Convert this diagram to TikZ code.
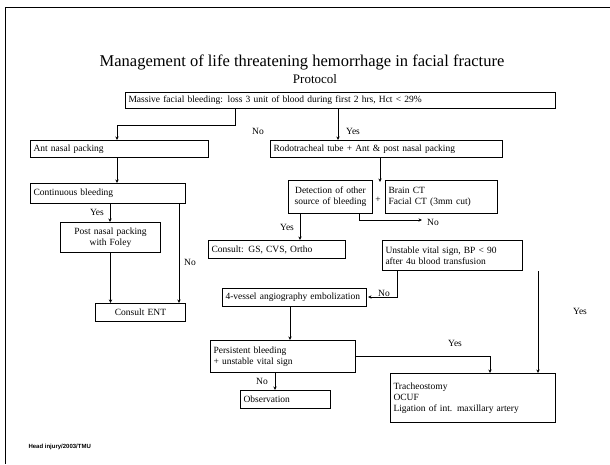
\documentclass[tikz,border=0pt]{standalone}
\usepackage{fontspec}
\setmainfont{Liberation Serif}
\newfontfamily\footfont{Liberation Sans}
\usetikzlibrary{arrows.meta,calc}
\tikzset{
  box/.style={draw, line width=1pt, inner xsep=3pt, inner ysep=1.5pt, anchor=north west,
    font=\fontsize{9.5}{11}\selectfont, align=left},
  cbox/.style={box, align=center},
  conn/.style={line width=0.6pt},
  arr/.style={conn, -{Stealth[length=3.5pt,width=3.2pt]}},
  lab/.style={font=\fontsize{9.5}{11}\selectfont, inner sep=1pt},
}
\begin{document}
\begin{tikzpicture}[x=1pt,y=-1pt]
\useasboundingbox (0,0) rectangle (610,464);
% slide frame
\draw[line width=1pt] (610,7) -- (5,7) -- (5,464);
% title
\node[font=\fontsize{16.5}{18}\selectfont] (title) at (302,62) {Management of life threatening hemorrhage in facial fracture};
\node[font=\fontsize{13}{15}\selectfont] (proto) at (315,79) {Protocol};
% boxes
\node[box, text width=424pt, minimum height=16pt] (A) at (125,92) {Massive facial bleeding: loss 3 unit of blood during first 2 hrs, Hct < 29\%};
\node[box, text width=172pt, minimum height=17pt] (B) at (30,140) {Ant nasal packing};
\node[box, text width=226pt, minimum height=17pt] (C) at (270,140) {Rodotracheal tube + Ant \& post nasal packing};
\node[box, text width=149pt, minimum height=20pt] (D) at (30,183) {Continuous bleeding};
\node[cbox, text width=78pt, minimum height=33pt] (E) at (288,180) {Detection of other\\source of bleeding};
\node[box, text width=106pt, minimum height=33pt] (F) at (385,180) {Brain CT\\Facial CT (3mm cut)};
\node[lab] (plus) at (378,200) {+};
\node[cbox, text width=94pt, minimum height=30pt] (G) at (60,222) {Post nasal packing\\with Foley};
\node[box, text width=131pt, minimum height=18pt] (H) at (208,240) {Consult: GS, CVS, Ortho};
\node[box, text width=134pt, minimum height=30pt] (I) at (382,240) {Unstable vital sign, BP < 90\\after 4u blood transfusion};
\node[cbox, text width=84pt, minimum height=18pt] (J) at (95,303) {Consult ENT};
\node[box, text width=138pt, minimum height=18pt] (K) at (222,288) {4-vessel angiography embolization};
\node[box, text width=139pt, minimum height=32pt] (L) at (210,340) {Persistent bleeding\\+ unstable vital sign};
\node[box, text width=84pt, minimum height=18pt] (M) at (240,390) {Observation};
\node[box, text width=159pt, minimum height=49pt] (N) at (390,373) {Tracheostomy\\OCUF\\Ligation of int. maxillary artery};
% footer
\node[font=\footfont\bfseries\fontsize{6}{7}\selectfont, anchor=west] (foot) at (25,447) {Head injury/2003/TMU};
% connectors
\draw[arr] ([xshift=110pt]A.south west) -- ++(0,16) -| ([xshift=87pt]B.north west);
\node[lab] (noA) at (258,131) {No};
\draw[arr] ([xshift=213pt]A.south west) -- ([xshift=68pt]C.north west);
\node[lab] (yesA) at (353,131) {Yes};
\draw[arr] ([xshift=87pt]B.south west) -- ([xshift=87pt]D.north west);
\draw[arr] ([xshift=110pt]C.south west) -- ([xshift=110pt,yshift=-2pt]C.south west |- E.north);
\draw[arr] ([xshift=80pt]D.south west) -- ([xshift=50pt]G.north west);
\node[lab] (yesD) at (97,212) {Yes};
\draw[arr] ([xshift=-7pt]D.south east) -- ([xshift=-7pt]D.south east |- J.north);
\node[lab] (noD) at (190,262) {No};
\draw[arr] (G.south) -- (G.south |- J.north);
\draw[arr] ([xshift=12pt]E.south west) -- ([xshift=92pt]H.north west);
\node[lab] (yesE) at (287,227) {Yes};
\coordinate (noEend) at (422,220);
\draw[arr] ([xshift=-14pt]E.south east) |- (noEend);
\node[lab] (noE) at (433,222) {No};
\coordinate (noIend) at (368,297);
\draw[arr] ([xshift=15pt]I.south west) |- (noIend);
\node[lab] (noI) at (384,293) {No};
\draw[arr] ([xshift=15pt]I.south east) -- ([xshift=15pt]I.south east |- N.north);
\node[lab] (yesI) at (580,311) {Yes};
\draw[arr] ([xshift=68pt]K.south west) -- ([xshift=80pt]L.north west);
\draw[arr] ([yshift=-16pt]L.north east) -| ([xshift=100pt]N.north west);
\node[lab] (yesL) at (455,343) {Yes};
\draw[arr] ([xshift=65pt]L.south west) -- ([xshift=35pt]M.north west);
\node[lab] (noL) at (262,381) {No};
\end{tikzpicture}
\end{document}
